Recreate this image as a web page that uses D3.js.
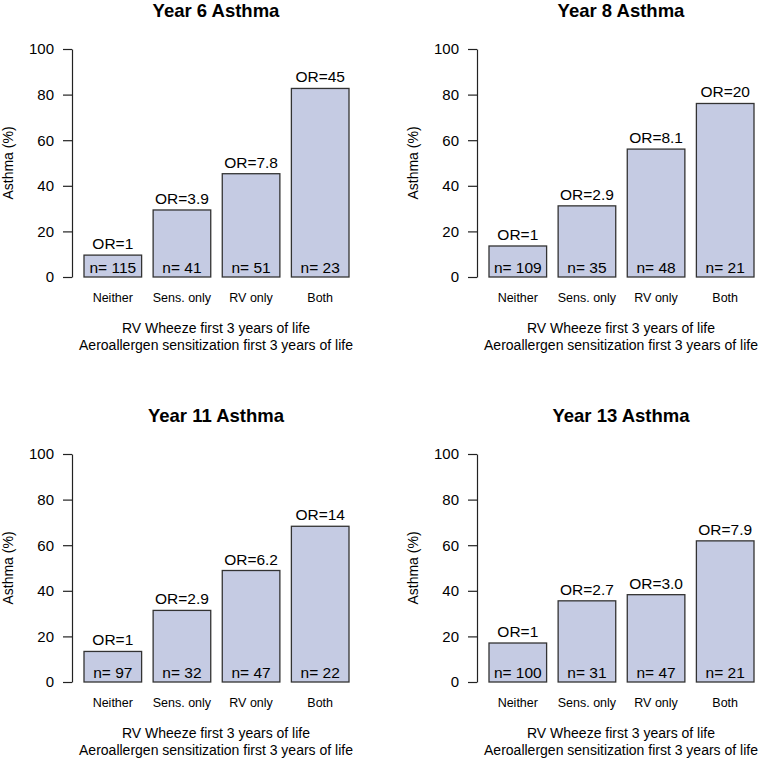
<!DOCTYPE html>
<html>
<head>
<meta charset="utf-8">
<script src="https://cdn.jsdelivr.net/npm/d3@7"></script>
<style>
  body { margin: 0; background: white; }
  text { font-family: "Liberation Sans", Arial, Helvetica, sans-serif; fill: black; }
</style>
</head>
<body>
<div id="myVis"></div>
<script>
var width = 762;
var height = 758;

// data
var categories = ["Neither", "Sens. only", "RV only", "Both"];
var titles = ["Year 6 Asthma", "Year 8 Asthma", "Year 11 Asthma", "Year 13 Asthma"];
var asthmaY6 = [9.6, 29.4, 45.3, 82.7];
var asthmaY8 = [13.6, 31.2, 56.1, 76.1];
var asthmaY11 = [13.4, 31.4, 48.9, 68.3];
var asthmaY13 = [17.1, 35.6, 38.3, 61.9];
var orY6 = ["1", "3.9", "7.8", "45"];
var orY8 = ["1", "2.9", "8.1", "20"];
var orY11 = ["1", "2.9", "6.2", "14"];
var orY13 = ["1", "2.7", "3.0", "7.9"];
var nY6 = [115, 41, 51, 23];
var nY8 = [109, 35, 48, 21];
var nY11 = [97, 32, 47, 22];
var nY13 = [100, 31, 47, 21];
var yTicks = [0, 20, 40, 60, 80, 100];

var panels = [
  { title: titles[0], vals: asthmaY6, or: orY6, n: nY6, dx: 0, dy: 0 },
  { title: titles[1], vals: asthmaY8, or: orY8, n: nY8, dx: 405, dy: 0 },
  { title: titles[2], vals: asthmaY11, or: orY11, n: nY11, dx: 0, dy: 405 },
  { title: titles[3], vals: asthmaY13, or: orY13, n: nY13, dx: 405, dy: 405 }
];

var svg = d3.select("#myVis")
  .append("svg")
  .attr("width", width)
  .attr("height", height);

var axisX = 72;
var plotTop = 49, plotBottom = 277;

var x = d3.scaleBand()
  .domain(categories)
  .range([84, 349])
  .paddingInner(0.2 / 1.2)
  .paddingOuter(0);

var y = d3.scaleLinear().domain([0, 100]).range([plotBottom, plotTop]);

panels.forEach(function (p) {
  var g = svg.append("g").attr("transform", "translate(" + p.dx + "," + p.dy + ")");

  // title
  g.append("text")
    .attr("x", 216)
    .attr("y", 17)
    .attr("text-anchor", "middle")
    .style("font-weight", "bold")
    .style("font-size", "18.5px")
    .text(p.title);

  // y axis
  var yAxis = g.append("g")
    .attr("transform", "translate(" + axisX + ",0)")
    .call(d3.axisLeft(y).tickValues(yTicks).tickSize(9).tickSizeOuter(0).tickPadding(9));
  yAxis.selectAll("path, line").attr("stroke", "#222").attr("stroke-width", 1.2);
  yAxis.selectAll("text")
    .style("font-size", "15px")
    .style("font-family", "Liberation Sans, Arial, sans-serif")
    .attr("fill", "black");

  g.append("text")
    .attr("transform", "translate(13," + ((plotTop + plotBottom) / 2) + ") rotate(-90)")
    .attr("text-anchor", "middle")
    .style("font-size", "14px")
    .text("Asthma (%)");

  // bars
  g.selectAll("rect.bar")
    .data(p.vals)
    .enter()
    .append("rect")
    .attr("class", "bar")
    .attr("x", function (d, i) { return x(categories[i]); })
    .attr("y", function (d) { return y(d); })
    .attr("width", x.bandwidth())
    .attr("height", function (d) { return y(0) - y(d); })
    .attr("fill", "#c5cbe3")
    .attr("stroke", "#333")
    .attr("stroke-width", 1.3);

  // OR labels
  g.selectAll("text.or")
    .data(p.vals)
    .enter()
    .append("text")
    .attr("class", "or")
    .attr("x", function (d, i) { return x(categories[i]) + x.bandwidth() / 2; })
    .attr("y", function (d) { return y(d) - 6; })
    .attr("text-anchor", "middle")
    .style("font-size", "15.5px")
    .text(function (d, i) { return "OR=" + p.or[i]; });

  // n labels
  g.selectAll("text.n")
    .data(p.n)
    .enter()
    .append("text")
    .attr("class", "n")
    .attr("x", function (d, i) { return x(categories[i]) + x.bandwidth() / 2; })
    .attr("y", y(0) - 4)
    .attr("text-anchor", "middle")
    .style("font-size", "15.5px")
    .text(function (d) { return "n= " + d; });

  // category labels
  g.selectAll("text.cat")
    .data(categories)
    .enter()
    .append("text")
    .attr("class", "cat")
    .attr("x", function (d) { return x(d) + x.bandwidth() / 2; })
    .attr("y", 302)
    .attr("text-anchor", "middle")
    .style("font-size", "12.5px")
    .text(function (d) { return d; });

  // x axis title, two lines
  g.append("text")
    .attr("x", 216)
    .attr("y", 333)
    .attr("text-anchor", "middle")
    .style("font-size", "14px")
    .text("RV Wheeze first 3 years of life");
  g.append("text")
    .attr("x", 216)
    .attr("y", 350)
    .attr("text-anchor", "middle")
    .style("font-size", "14px")
    .text("Aeroallergen sensitization first 3 years of life");
});
</script>
</body>
</html>
